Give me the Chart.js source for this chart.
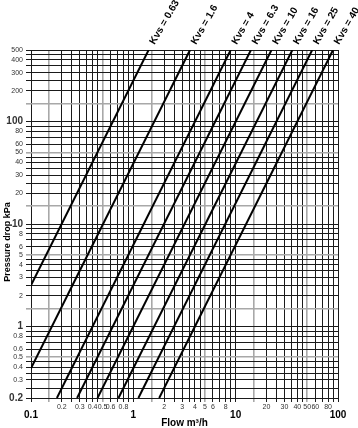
<!DOCTYPE html>
<html><head><meta charset="utf-8">
<script src="https://cdn.jsdelivr.net/npm/chart.js@4/dist/chart.umd.min.js"></script>
<style>html,body{margin:0;padding:0;background:#fff;} #wrap{width:358px;height:428px;position:relative}</style>
</head><body><div id="wrap"><canvas id="c"></canvas></div>
<script>
// Kvs curves: pressure drop (kPa) vs flow (m3/h), read at the frame edges
const kvsValues = [0.63, 1.6, 4, 6.3, 10, 16, 25, 40];
const kvsLabels = ['Kvs = 0.63','Kvs = 1.6','Kvs = 4','Kvs = 6.3','Kvs = 10','Kvs = 16','Kvs = 25','Kvs = 40'];
const flowStart = [0.1, 0.1, 0.179, 0.282, 0.447, 0.716, 1.12, 1.79];
const dropStart = [2.52, 0.39, 0.2, 0.2, 0.2, 0.2, 0.2, 0.2];
const flowEnd   = [1.41, 3.58, 8.94, 14.1, 22.4, 35.8, 55.9, 89.4];
const dropEnd   = [500, 500, 500, 500, 500, 500, 500, 500];

// grid and tick values
const xGrid = [0.1,0.15,0.2,0.25,0.3,0.35,0.4,0.45,0.5,0.6,0.7,0.8,0.9,
               1,1.5,2,2.5,3,3.5,4,4.5,5,6,7,8,9,
               10,15,20,25,30,35,40,45,50,60,70,80,90,100];
const xMinorTicks = [0.2,0.3,0.4,0.5,0.6,0.8,2,3,4,5,6,8,20,30,40,50,60,80];
const xMajorTicks = [0.1,1,10,100];
const yGrid = [0.2,0.25,0.3,0.35,0.4,0.45,0.5,0.6,0.7,0.8,0.9,
               1,1.5,2,2.5,3,3.5,4,4.5,5,6,7,8,9,
               10,15,20,25,30,35,40,45,50,60,70,80,90,
               100,150,200,250,300,350,400,450,500];
const yMinorTicks = [0.3,0.4,0.5,0.6,0.8,2,3,4,5,6,8,20,30,40,50,60,80,200,300,400,500];
const yMajorTicks = [0.2,1,10,100];
const grayGrid = [0.15,0.5,1.5,5,15,50,150];

const has = (arr, v) => arr.some(a => Math.abs(a - v) < a * 1e-6);
const FONT = '"Liberation Sans", Arial, Helvetica, sans-serif';

const datasets = kvsValues.map((k, i) => ({
  label: kvsLabels[i],
  data: [{x: flowStart[i], y: dropStart[i]}, {x: flowEnd[i], y: dropEnd[i]}],
  borderColor: '#000',
  borderWidth: 2,
  pointRadius: 0,
  showLine: true,
  fill: false
}));

const gridColor = ctx => has(grayGrid, ctx.tick.value) ? '#a8a8a8' : '#1a1a1a';
const gridWidth = ctx => has(grayGrid, ctx.tick.value) ? 1.6 : 1;

const kvsLabelPlugin = {
  id: 'kvsLabels',
  afterDatasetsDraw(chart) {
    const {ctx, scales: {x, y}} = chart;
    ctx.save();
    ctx.font = 'bold 10px ' + FONT;
    ctx.fillStyle = '#000';
    ctx.textAlign = 'left';
    ctx.textBaseline = 'alphabetic';
    kvsLabels.forEach((t, i) => {
      const px = x.getPixelForValue(flowEnd[i]);
      const py = y.getPixelForValue(dropEnd[i]);
      ctx.save();
      ctx.translate(px + 6, py - 5);
      ctx.rotate(-60 * Math.PI / 180);
      ctx.fillText(t, 0, 0);
      ctx.restore();
    });
    ctx.restore();
  }
};

new Chart(document.getElementById('c'), {
  type: 'scatter',
  data: {datasets},
  options: {
    responsive: true,
    maintainAspectRatio: false,
    animation: false,
    layout: {padding: {top: 50, right: 20, left: 0, bottom: 0}},
    plugins: {legend: {display: false}, tooltip: {enabled: false}},
    scales: {
      x: {
        type: 'logarithmic', position: 'bottom', weight: 0,
        min: 0.1, max: 100,
        afterBuildTicks: s => { s.ticks = xGrid.map(v => ({value: v})); },
        afterFit: s => { s.height = 12; },
        grid: {color: gridColor, lineWidth: gridWidth, tickLength: 4, tickColor: gridColor},
        border: {display: false},
        ticks: {
          autoSkip: false, maxRotation: 0, padding: 1, color: '#333',
          font: {family: FONT, size: 7},
          callback: v => has(xMinorTicks, v) ? String(v) : ''
        }
      },
      x2: {
        type: 'logarithmic', position: 'bottom', weight: 1,
        min: 0.1, max: 100,
        afterBuildTicks: s => { s.ticks = xMajorTicks.map(v => ({value: v})); },
        afterFit: s => { s.height = 18; },
        grid: {display: false, drawTicks: false},
        border: {display: false},
        ticks: {
          autoSkip: false, maxRotation: 0, padding: 0, color: '#000',
          font: {family: FONT, size: 10, weight: 'bold', lineHeight: 1},
          callback: v => String(v)
        },
        title: {display: true, text: 'Flow m³/h', color: '#000',
                font: {family: FONT, size: 10, weight: 'bold', lineHeight: 1},
                padding: {top: 0, bottom: 0}}
      },
      y: {
        type: 'logarithmic', position: 'left',
        min: 0.2, max: 500,
        afterBuildTicks: s => { s.ticks = yGrid.map(v => ({value: v})); },
        afterFit: s => { s.width = 31; },
        grid: {color: gridColor, lineWidth: gridWidth, tickLength: 5, tickColor: gridColor},
        border: {display: false},
        ticks: {
          autoSkip: false, padding: 3, color: '#333',
          font: ctx => has(yMajorTicks, ctx.tick.value)
            ? {family: FONT, size: 10, weight: 'bold'}
            : {family: FONT, size: 7},
          callback: v => (has(yMinorTicks, v) || has(yMajorTicks, v)) ? String(v) : ''
        },
        title: {display: true, text: 'Pressure drop kPa\u2003\u2003\u2003\u2003', color: '#000',
                font: {family: FONT, size: 9, weight: 'bold', lineHeight: 1.2},
                padding: {top: 2, bottom: 0}}
      }
    }
  },
  plugins: [kvsLabelPlugin]
});
</script>
</body></html>
